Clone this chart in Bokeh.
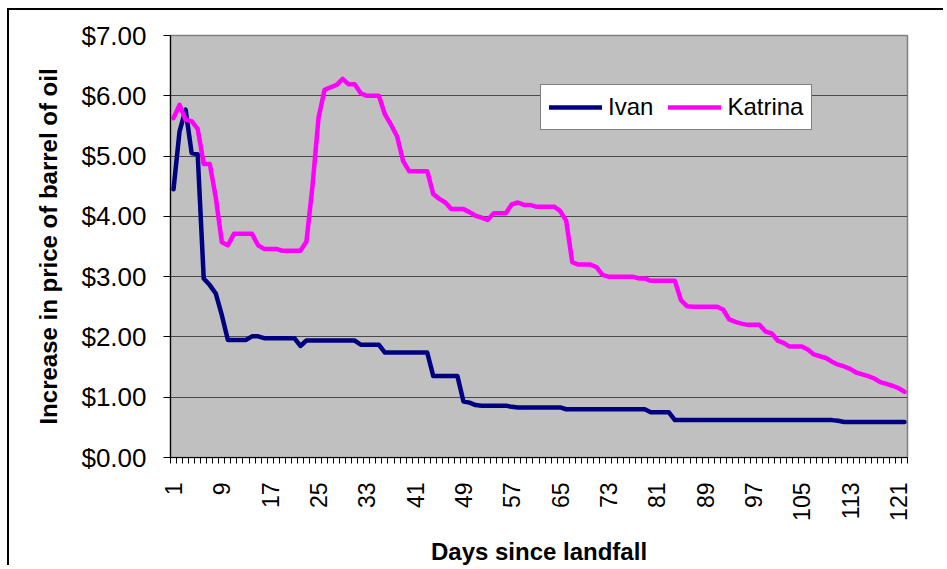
import math
from bokeh.plotting import figure
from bokeh.models import (FixedTicker, NumeralTickFormatter, Range1d, Legend,
                          LegendItem)
from bokeh.embed import file_html
from bokeh.resources import INLINE

days = list(range(1, 123))

ivan = [4.45, 5.41, 5.77, 5.05, 5.03, 2.97, 2.86, 2.72, 2.36, 1.95,
        1.95, 1.95, 1.95, 2.01, 2.01, 1.98, 1.98, 1.98, 1.98, 1.98,
        1.98, 1.85, 1.94, 1.94, 1.94, 1.94, 1.94, 1.94, 1.94, 1.94,
        1.94, 1.87, 1.87, 1.87, 1.87, 1.74, 1.74, 1.74, 1.74, 1.74,
        1.74, 1.74, 1.74, 1.35, 1.35, 1.35, 1.35, 1.35, 0.93, 0.91,
        0.87, 0.86, 0.86, 0.86, 0.86, 0.86, 0.84, 0.83, 0.83, 0.83,
        0.83, 0.83, 0.83, 0.83, 0.83, 0.80, 0.80, 0.80, 0.80, 0.80,
        0.80, 0.80, 0.80, 0.80, 0.80, 0.80, 0.80, 0.80, 0.80, 0.75,
        0.75, 0.75, 0.75, 0.62, 0.62, 0.62, 0.62, 0.62, 0.62, 0.62,
        0.62, 0.62, 0.62, 0.62, 0.62, 0.62, 0.62, 0.62, 0.62, 0.62,
        0.62, 0.62, 0.62, 0.62, 0.62, 0.62, 0.62, 0.62, 0.62, 0.62,
        0.61, 0.59, 0.59, 0.59, 0.59, 0.59, 0.59, 0.59, 0.59, 0.59,
        0.59, 0.59]

katrina = [5.63, 5.85, 5.60, 5.58, 5.45, 4.87, 4.87, 4.31, 3.57, 3.52,
           3.71, 3.71, 3.71, 3.71, 3.52, 3.46, 3.46, 3.46, 3.43, 3.43,
           3.43, 3.43, 3.58, 4.50, 5.63, 6.10, 6.14, 6.18, 6.28, 6.19,
           6.19, 6.04, 6.00, 6.00, 6.00, 5.69, 5.52, 5.33, 4.92, 4.75,
           4.75, 4.75, 4.75, 4.37, 4.29, 4.23, 4.12, 4.12, 4.12, 4.07,
           4.01, 3.98, 3.94, 4.05, 4.05, 4.05, 4.20, 4.23, 4.19, 4.19,
           4.16, 4.16, 4.16, 4.16, 4.09, 3.93, 3.24, 3.20, 3.20, 3.20,
           3.16, 3.03, 3.00, 3.00, 3.00, 3.00, 3.00, 2.97, 2.97, 2.93,
           2.93, 2.93, 2.93, 2.93, 2.61, 2.51, 2.50, 2.50, 2.50, 2.50,
           2.50, 2.45, 2.29, 2.25, 2.22, 2.20, 2.20, 2.20, 2.09, 2.06,
           1.94, 1.90, 1.84, 1.84, 1.84, 1.79, 1.71, 1.68, 1.65, 1.59,
           1.54, 1.51, 1.47, 1.41, 1.38, 1.35, 1.31, 1.25, 1.22, 1.19,
           1.15, 1.09]

y_ticks = [0, 1, 2, 3, 4, 5, 6, 7]
x_label_days = list(range(1, 122, 8))
x_boundaries = [d + 0.5 for d in range(0, 123)]

FONT = "Liberation Sans"

p = figure(width=936, height=557, output_backend="svg", toolbar_location=None,
           x_range=Range1d(0.5, 122.5), y_range=Range1d(0, 7),
           min_border_left=161, min_border_right=38, min_border_top=25,
           min_border_bottom=109)
p.styles = {"margin-top": "8px", "margin-left": "7px",
            "border-top": "2px solid black", "border-left": "2px solid black"}

p.background_fill_color = "#C0C0C0"
p.border_fill_color = "white"
p.outline_line_color = "#808080"
p.outline_line_width = 1.5

r_ivan = p.line(days, ivan, line_color="#000080", line_width=4.5,
                line_cap="round", line_join="round")
r_kat = p.line(days, katrina, line_color="#FF00FF", line_width=4.5,
               line_cap="round", line_join="round")

# grid
p.xgrid.visible = False
p.ygrid.ticker = FixedTicker(ticks=y_ticks)
p.ygrid.grid_line_color = "#4a4a4a"
p.ygrid.grid_line_width = 1

# y axis
ya = p.yaxis[0]
ya.ticker = FixedTicker(ticks=y_ticks)
ya.formatter = NumeralTickFormatter(format="$0.00")
ya.major_label_text_font = FONT
ya.major_label_text_font_size = "26px"
ya.major_label_text_color = "black"
ya.major_tick_out = 7
ya.major_tick_in = 0
ya.major_tick_line_color = "black"
ya.minor_tick_line_color = None
ya.axis_line_color = "black"
ya.axis_line_width = 1.2
ya.major_label_standoff = 17
ya.axis_label = "Increase in price of barrel of oil"
ya.axis_label_text_font = FONT
ya.axis_label_text_font_style = "bold"
ya.axis_label_text_font_size = "24px"
ya.axis_label_text_color = "black"
ya.axis_label_standoff = 16

# x axis
xa = p.xaxis[0]
xa.ticker = FixedTicker(ticks=x_label_days, minor_ticks=x_boundaries)
xa.major_tick_line_color = None
xa.major_tick_out = 0
xa.major_tick_in = 0
xa.minor_tick_out = 6
xa.minor_tick_in = 0
xa.minor_tick_line_color = "black"
xa.axis_line_color = "black"
xa.axis_line_width = 1.2
xa.major_label_orientation = math.pi / 2
xa.major_label_standoff = 19
xa.major_label_text_font = FONT
xa.major_label_text_font_size = "23px"
xa.major_label_text_color = "black"
xa.axis_label = "Days since landfall"
xa.axis_label_text_font = FONT
xa.axis_label_text_font_style = "bold"
xa.axis_label_text_font_size = "24px"
xa.axis_label_text_color = "black"
xa.axis_label_standoff = 14

legend = Legend(items=[LegendItem(label="Ivan", renderers=[r_ivan]),
                       LegendItem(label="Katrina", renderers=[r_kat])],
                orientation="horizontal", location=(370, 327), margin=0,
                padding=8, spacing=15, glyph_width=53, glyph_height=20,
                label_standoff=6, label_text_font=FONT,
                label_text_font_size="24px", label_text_color="black",
                border_line_color="black", border_line_width=1,
                background_fill_color="white", background_fill_alpha=1.0)
p.add_layout(legend)

open("out.html", "w").write(file_html(p, INLINE))
